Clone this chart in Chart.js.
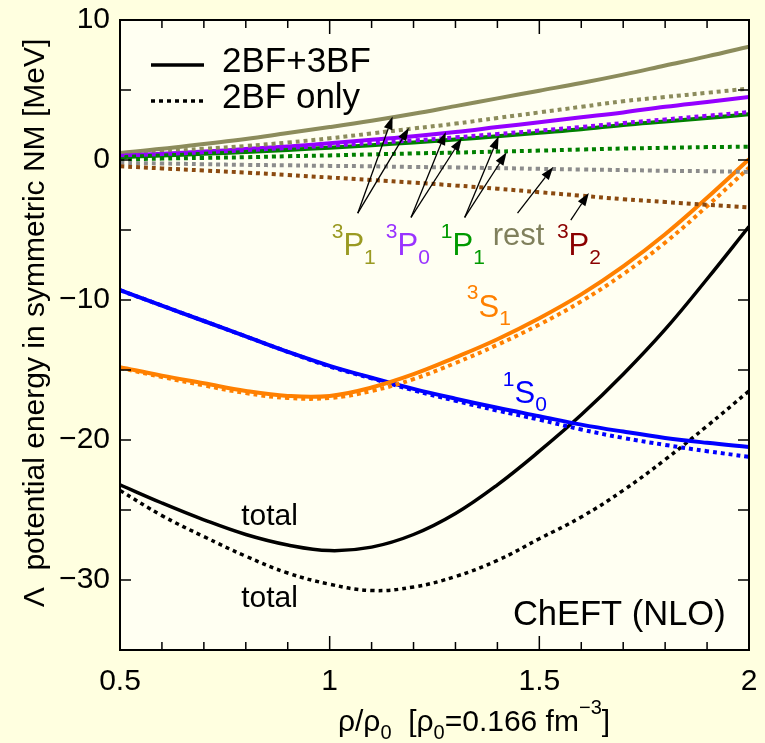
<!DOCTYPE html>
<html>
<head>
<meta charset="utf-8">
<script src="https://cdn.jsdelivr.net/npm/chart.js@4.4.1/dist/chart.umd.min.js"></script>
<style>
  html, body { margin: 0; padding: 0; background: #ffffe0; }
  #wrap { width: 765px; height: 743px; }
</style>
</head>
<body>
<div id="wrap"><canvas id="chart" width="765" height="743"></canvas></div>
<script>
// density rho/rho0
const rho = [0.5, 0.6, 0.7, 0.8, 0.9, 1.0, 1.1, 1.2, 1.3, 1.4, 1.5, 1.6, 1.7, 1.8, 1.9, 2.0];

// total
const total3BF = [-23.2, -24.5, -25.7, -26.75, -27.5, -27.9, -27.65, -26.75, -25.25, -23.2, -20.8, -18.2, -15.3, -12.1, -8.5, -4.75];
const total2BF = [-23.6, -25.4, -26.9, -28.3, -29.5, -30.3, -30.75, -30.5, -29.75, -28.6, -27.05, -25.5, -23.6, -21.4, -19.0, -16.5];
// 3S1
const s3S1_3BF = [-14.8, -15.4, -15.95, -16.5, -16.85, -16.85, -16.25, -15.3, -14.1, -12.8, -11.3, -9.6, -7.6, -5.3, -2.7, 0.05];
const s3S1_2BF = [-14.85, -15.5, -16.1, -16.65, -17.0, -17.0, -16.5, -15.65, -14.5, -13.2, -11.75, -10.1, -8.15, -5.9, -3.3, -0.55];
// 1S0
const s1S0_3BF = [-9.3, -10.4, -11.5, -12.6, -13.7, -14.7, -15.55, -16.35, -17.05, -17.7, -18.3, -18.9, -19.4, -19.85, -20.2, -20.5];
const s1S0_2BF = [-9.3, -10.4, -11.5, -12.6, -13.7, -14.75, -15.6, -16.45, -17.2, -17.9, -18.55, -19.25, -19.85, -20.35, -20.8, -21.2];
// P waves
const p3P1_3BF = [0.5, 0.8, 1.15, 1.5, 1.93, 2.35, 2.8, 3.3, 3.85, 4.4, 4.95, 5.5, 6.1, 6.75, 7.4, 8.1];
const p3P1_2BF = [0.4, 0.6, 0.8, 1.0, 1.25, 1.55, 1.9, 2.25, 2.6, 3.0, 3.4, 3.8, 4.2, 4.5, 4.8, 5.1];
const p3P0_3BF = [0.3, 0.45, 0.6, 0.78, 0.97, 1.2, 1.45, 1.7, 2.0, 2.35, 2.7, 3.05, 3.4, 3.8, 4.15, 4.5];
const p3P0_2BF = [0.3, 0.42, 0.55, 0.7, 0.86, 1.03, 1.21, 1.4, 1.62, 1.86, 2.1, 2.36, 2.64, 2.9, 3.16, 3.42];
const p1P1_3BF = [0.2, 0.32, 0.44, 0.57, 0.72, 0.88, 1.06, 1.25, 1.46, 1.7, 1.95, 2.2, 2.5, 2.75, 3.0, 3.26];
const p1P1_2BF = [0.05, 0.1, 0.15, 0.2, 0.27, 0.33, 0.4, 0.47, 0.53, 0.6, 0.67, 0.75, 0.82, 0.87, 0.92, 0.95];
const rest_2BF = [-0.2, -0.25, -0.3, -0.35, -0.38, -0.42, -0.45, -0.5, -0.53, -0.58, -0.63, -0.68, -0.72, -0.77, -0.8, -0.85];
const p3P2_2BF = [-0.45, -0.6, -0.75, -0.9, -1.07, -1.25, -1.43, -1.62, -1.82, -2.05, -2.3, -2.55, -2.8, -3.0, -3.2, -3.38];

const FONT = '"Liberation Sans", Arial, sans-serif';
const MINUS = '\u2212';

// labels in data coords (baseline start)
const notes = [
  { x: 1.005, y: -6.8, color: '#9a9a22', parts: [['3', 'sup'], ['P'], ['1', 'sub']] },
  { x: 1.134, y: -6.8, color: '#9933ff', parts: [['3', 'sup'], ['P'], ['0', 'sub']] },
  { x: 1.265, y: -6.8, color: '#009a00', parts: [['1', 'sup'], ['P'], ['1', 'sub']] },
  { x: 1.389, y: -6.07, color: '#80805c', parts: [['rest']] },
  { x: 1.542, y: -6.8, color: '#8b0000', parts: [['3', 'sup'], ['P'], ['2', 'sub']] },
  { x: 1.327, y: -11.2, color: '#ff8000', parts: [['3', 'sup'], ['S'], ['1', 'sub']] },
  { x: 1.413, y: -17.36, color: '#0000ff', parts: [['1', 'sup'], ['S'], ['0', 'sub']] },
  { x: 0.789, y: -26.07, color: '#000', size: 30, parts: [['total']] },
  { x: 0.789, y: -31.9, color: '#000', size: 30, parts: [['total']] },
  { x: 1.437, y: -33.2, color: '#000', size: 34.5, parts: [['ChEFT (NLO)']] }
];

// arrows: tail -> head, data coords
const arrows = [
  [1.067, -3.8, 1.15, 3.1], [1.067, -3.8, 1.189, 2.3],
  [1.194, -4.1, 1.277, 2.0], [1.194, -4.1, 1.315, 1.55],
  [1.322, -4.1, 1.403, 1.7], [1.322, -4.1, 1.422, 0.55],
  [1.448, -3.8, 1.533, -0.5],
  [1.575, -4.3, 1.618, -2.35]
];

const series = arr => rho.map((r, i) => ({ x: r, y: arr[i] }));

const solid = (arr, color, w) => ({
  data: series(arr), borderColor: color, borderWidth: w || 4,
  pointRadius: 0, tension: 0.4, fill: false
});
const dotted = (arr, color, w) => ({
  data: series(arr), borderColor: color, borderWidth: w || 4,
  borderDash: [4, 4], pointRadius: 0, tension: 0.4, fill: false
});

function rich(ctx, parts, x, y, size, color) {
  const small = Math.round(size * 0.68);
  let cx = x;
  ctx.fillStyle = color;
  ctx.textAlign = 'left';
  ctx.textBaseline = 'alphabetic';
  parts.forEach(([t, k]) => {
    ctx.font = (k ? small : size) + 'px ' + FONT;
    const dy = k === 'sup' ? -size * 0.56 : k === 'sub' ? size * 0.27 : 0;
    ctx.fillText(t, cx, y + dy);
    cx += ctx.measureText(t).width;
  });
  return cx - x;
}

function richWidth(ctx, parts, size) {
  const small = Math.round(size * 0.68);
  let w = 0;
  parts.forEach(([t, k]) => {
    ctx.font = (k ? small : size) + 'px ' + FONT;
    w += ctx.measureText(t).width;
  });
  return w;
}

const decor = {
  id: 'decor',
  beforeDraw(chart) {
    const { ctx, chartArea: a } = chart;
    ctx.save();
    ctx.fillStyle = '#ffffe0';
    ctx.fillRect(0, 0, chart.width, chart.height);
    ctx.fillStyle = '#fffff2';
    ctx.fillRect(a.left, a.top, a.right - a.left, a.bottom - a.top);
    ctx.restore();
  },
  afterDatasetsDraw(chart) {
    const { ctx, chartArea: a, scales: { x, y } } = chart;
    ctx.save();
    // arrows
    ctx.strokeStyle = '#000';
    ctx.fillStyle = '#000';
    ctx.lineWidth = 1.3;
    arrows.forEach(([x0, y0, x1, y1]) => {
      const ax = x.getPixelForValue(x0), ay = y.getPixelForValue(y0);
      const bx = x.getPixelForValue(x1), by = y.getPixelForValue(y1);
      const ang = Math.atan2(by - ay, bx - ax);
      const L = 13, W = 4.5;
      const cx = bx - L * Math.cos(ang), cy = by - L * Math.sin(ang);
      ctx.beginPath();
      ctx.moveTo(ax, ay);
      ctx.lineTo(cx, cy);
      ctx.stroke();
      ctx.beginPath();
      ctx.moveTo(bx, by);
      ctx.lineTo(cx + W * Math.sin(ang), cy - W * Math.cos(ang));
      ctx.lineTo(cx - W * Math.sin(ang), cy + W * Math.cos(ang));
      ctx.closePath();
      ctx.fill();
    });
    // labels
    notes.forEach(n => {
      rich(ctx, n.parts, x.getPixelForValue(n.x), y.getPixelForValue(n.y), n.size || 31, n.color);
    });
    // legend
    const lx = a.left + 31, ly = a.top + 45;
    ctx.strokeStyle = '#000';
    ctx.lineWidth = 3.5;
    ctx.beginPath();
    ctx.moveTo(lx, ly); ctx.lineTo(lx + 53, ly);
    ctx.stroke();
    ctx.setLineDash([4, 4]);
    ctx.beginPath();
    ctx.moveTo(lx, ly + 36); ctx.lineTo(lx + 52, ly + 36);
    ctx.stroke();
    ctx.setLineDash([]);
    rich(ctx, [['2BF+3BF']], a.left + 102, a.top + 52, 35, '#000');
    rich(ctx, [['2BF only']], a.left + 102, a.top + 88, 35, '#000');
    ctx.restore();
  },
  afterDraw(chart) {
    const { ctx, chartArea: a, scales: { x, y } } = chart;
    ctx.save();
    ctx.strokeStyle = '#000';
    ctx.lineWidth = 1.5;
    ctx.beginPath();
    x.ticks.forEach(t => {
      const px = x.getPixelForValue(t.value);
      const major = Math.abs(t.value * 2 - Math.round(t.value * 2)) < 1e-6;
      const len = major ? 14 : 8;
      ctx.moveTo(px, a.bottom); ctx.lineTo(px, a.bottom - len);
      ctx.moveTo(px, a.top); ctx.lineTo(px, a.top + len);
    });
    y.ticks.forEach(t => {
      const py = y.getPixelForValue(t.value);
      const len = 11;
      ctx.moveTo(a.left, py); ctx.lineTo(a.left + len, py);
      ctx.moveTo(a.right, py); ctx.lineTo(a.right - len, py);
    });
    ctx.stroke();
    ctx.lineWidth = 2;
    ctx.strokeRect(a.left, a.top, a.right - a.left, a.bottom - a.top);

    // axis titles
    const xt = [['\u03c1/\u03c1'], ['0', 'sub'], ['  [\u03c1'], ['0', 'sub'], ['=0.166 fm'], [MINUS + '3', 'sup'], [']']];
    const w = richWidth(ctx, xt, 30);
    rich(ctx, xt, 474 - w / 2, 731, 30, '#000');

    ctx.translate(36, 323);
    ctx.rotate(-Math.PI / 2);
    ctx.font = '30px ' + FONT;
    ctx.fillStyle = '#000';
    ctx.textAlign = 'center';
    ctx.textBaseline = 'middle';
    ctx.fillText('\u039b  potential energy in symmetric NM [MeV]', 0, 0);
    ctx.restore();
  }
};

new Chart(document.getElementById('chart'), {
  type: 'line',
  data: {
    datasets: [
      dotted(p3P2_2BF, '#8b4a10'),
      dotted(rest_2BF, '#8c8c8c'),
      dotted(p1P1_2BF, '#008000'),
      dotted(p3P0_2BF, '#9400ff'),
      dotted(p3P1_2BF, '#8c8c5c'),
      solid(p1P1_3BF, '#008000'),
      solid(p3P0_3BF, '#9400ff'),
      solid(p3P1_3BF, '#8c8c5c'),
      dotted(s3S1_2BF, '#ff8000'),
      solid(s3S1_3BF, '#ff8000'),
      dotted(s1S0_2BF, '#0000ff'),
      solid(s1S0_3BF, '#0000ff'),
      dotted(total2BF, '#000', 3.5),
      solid(total3BF, '#000', 3.5)
    ]
  },
  options: {
    responsive: false,
    animation: false,
    layout: { padding: { top: 20, right: 16, left: 0, bottom: 0 } },
    plugins: { legend: { display: false }, tooltip: { enabled: false } },
    scales: {
      x: {
        type: 'linear', min: 0.5, max: 2,
        afterFit: s => { s.height = 93; s.paddingLeft = 0; s.paddingRight = 0; },
        grid: { display: false, drawTicks: false },
        border: { display: false },
        ticks: {
          stepSize: 0.1, padding: 14, color: '#000', maxRotation: 0, autoSkip: false,
          font: { family: FONT, size: 30 },
          callback: v => Math.abs(v * 2 - Math.round(v * 2)) < 1e-6 ? String(Math.round(v * 10) / 10) : ''
        }
      },
      y: {
        min: -35, max: 10,
        afterFit: s => { s.width = 120; s.paddingTop = 0; s.paddingBottom = 0; },
        grid: { display: false, drawTicks: false },
        border: { display: false },
        ticks: {
          stepSize: 5, padding: 10, color: '#000', autoSkip: false,
          font: { family: FONT, size: 30 },
          callback: v => v % 10 === 0 ? (v < 0 ? MINUS + Math.abs(v) : String(v)) : ''
        }
      }
    }
  },
  plugins: [decor]
});
</script>
</body>
</html>
